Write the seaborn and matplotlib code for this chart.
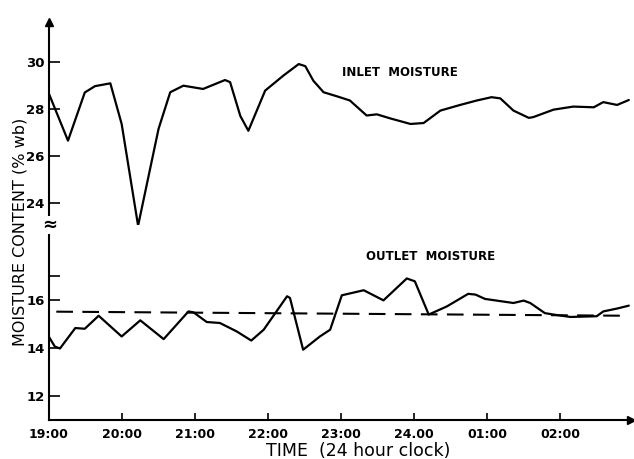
import matplotlib
matplotlib.use("Agg")
import matplotlib.pyplot as plt
import seaborn as sns
import pandas as pd

# ---- data (hours after 19:00) ----
inlet_t = [0, 0.26, 0.49, 0.63, 0.84, 0.995, 1.22, 1.50, 1.66, 1.84, 2.11, 2.41, 2.48, 2.62,
           2.73, 2.96, 3.21, 3.42, 3.51, 3.62, 3.76, 3.94, 4.12, 4.35, 4.49, 4.67, 4.95, 5.13,
           5.36, 5.63, 5.86, 6.06, 6.18, 6.36, 6.57, 6.63, 6.91, 7.18, 7.46, 7.59, 7.78, 7.94]
inlet_v = [28.64, 26.65, 28.7, 28.97, 29.09, 27.36, 23.03, 27.15, 28.71, 28.99, 28.85, 29.23,
           29.14, 27.7, 27.07, 28.78, 29.42, 29.91, 29.82, 29.2, 28.71, 28.54, 28.36, 27.72,
           27.77, 27.6, 27.36, 27.4, 27.93, 28.17, 28.36, 28.5, 28.45, 27.93, 27.62, 27.65,
           27.97, 28.1, 28.07, 28.29, 28.17, 28.38]

outlet_t = [0, 0.08, 0.15, 0.36, 0.49, 0.68, 0.995, 1.25, 1.57, 1.91, 1.98, 2.16, 2.34, 2.57,
            2.77, 2.94, 3.26, 3.30, 3.48, 3.71, 3.85, 4.01, 4.31, 4.58, 4.90, 5.01, 5.20, 5.45,
            5.74, 5.84, 5.97, 6.13, 6.36, 6.50, 6.59, 6.79, 6.91, 7.14, 7.50, 7.59, 7.78, 7.94]
outlet_v = [14.45, 14.05, 13.97, 14.82, 14.79, 15.33, 14.47, 15.14, 14.36, 15.51, 15.47, 15.07,
            15.03, 14.68, 14.3, 14.75, 16.14, 16.07, 13.92, 14.47, 14.75, 16.18, 16.39, 15.97,
            16.88, 16.76, 15.38, 15.72, 16.24, 16.21, 16.03, 15.96, 15.86, 15.96, 15.86, 15.44,
            15.38, 15.28, 15.31, 15.51, 15.63, 15.75]

mean_t = [0.1, 7.94]
mean_v = [15.5, 15.33]

x_ticks = [0, 1, 2, 3, 4, 5, 6, 7]
x_labels = ["19:00", "20:00", "21:00", "22:00", "23:00", "24.00", "01:00", "02:00"]
upper_ticks = [24, 26, 28, 30]
lower_ticks = [12, 14, 16, 17]
lower_labels = ["12", "14", "16", ""]

sns.set_style("white")
plt.rcParams["font.family"] = ["DejaVu Sans"]
plt.rcParams.update({"text.color": "black", "axes.labelcolor": "black",
                     "xtick.color": "black", "ytick.color": "black",
                     "axes.edgecolor": "black"})

W, H = 634, 459
fig = plt.figure(figsize=(W / 100, H / 100), dpi=100)

x0, x1 = 49, 631
y_bot, y_brk, y_top = 420, 225, 22
ax_lo = fig.add_axes([x0 / W, 1 - y_bot / H, (x1 - x0) / W, (y_bot - y_brk) / H])
ax_hi = fig.add_axes([x0 / W, 1 - y_brk / H, (x1 - x0) / W, (y_brk - y_top) / H], sharex=ax_lo)

lw = 1.6
sns.lineplot(data=pd.DataFrame({"t": inlet_t, "v": inlet_v}), x="t", y="v", ax=ax_hi,
             color="black", lw=lw, sort=False)
sns.lineplot(data=pd.DataFrame({"t": outlet_t, "v": outlet_v}), x="t", y="v", ax=ax_lo,
             color="black", lw=lw, sort=False)
sns.lineplot(data=pd.DataFrame({"t": mean_t, "v": mean_v}), x="t", y="v", ax=ax_lo,
             color="black", lw=1.5, sort=False, linestyle=(0, (8, 4.5)))

ax_lo.set_xlim(0, 7.97)
ax_lo.set_ylim(11.0, 19.1)
ax_hi.set_ylim(23.06, 31.7)

for ax in (ax_lo, ax_hi):
    for s in ("top", "right"):
        ax.spines[s].set_visible(False)
    ax.spines["left"].set_linewidth(1.5)
    ax.set_xlabel("")
    ax.set_ylabel("")
    ax.patch.set_alpha(0)
ax_hi.spines["bottom"].set_visible(False)
ax_lo.spines["bottom"].set_linewidth(1.5)

ax_lo.set_xticks(x_ticks)
ax_lo.set_xticklabels(x_labels, fontsize=9, fontweight="bold")
ax_lo.tick_params(axis="x", direction="in", length=5, width=1.2, pad=6, bottom=True)
ax_hi.tick_params(axis="x", bottom=False, labelbottom=False)

ax_lo.set_yticks(lower_ticks)
ax_lo.set_yticklabels(lower_labels, fontsize=9.5, fontweight="bold")
ax_hi.set_yticks(upper_ticks)
ax_hi.set_yticklabels([str(v) for v in upper_ticks], fontsize=9.5, fontweight="bold")
for ax in (ax_lo, ax_hi):
    ax.tick_params(axis="y", direction="in", length=8, width=1.2, pad=3, left=True)

# axis arrows
ax_hi.plot([0], [1.0], marker="^", color="black", markersize=6,
           transform=ax_hi.transAxes, clip_on=False)
ax_lo.plot([1.0], [0], marker=">", color="black", markersize=6,
           transform=ax_lo.transAxes, clip_on=False)

# axis break symbol
fig.text(x0 / W + 0.001, 1 - y_brk / H, "\u2248", ha="center", va="center", fontsize=13,
         fontweight="bold", bbox=dict(facecolor="white", edgecolor="none", pad=0.3))

# labels
fig.text(400 / W, 1 - 72 / H, "INLET  MOISTURE", fontsize=8.5, fontweight="bold",
         ha="center", va="center")
fig.text(431 / W, 1 - 257 / H, "OUTLET  MOISTURE", fontsize=8.5, fontweight="bold",
         ha="center", va="center")
fig.text(358 / W, 1 - 451 / H, "TIME  (24 hour clock)", fontsize=12.5,
         ha="center", va="center")
fig.text(20 / W, 1 - 232 / H, "MOISTURE CONTENT (% wb)", fontsize=11.5, rotation=90,
         ha="center", va="center")

fig.savefig("out.png", dpi=100, facecolor="white")
